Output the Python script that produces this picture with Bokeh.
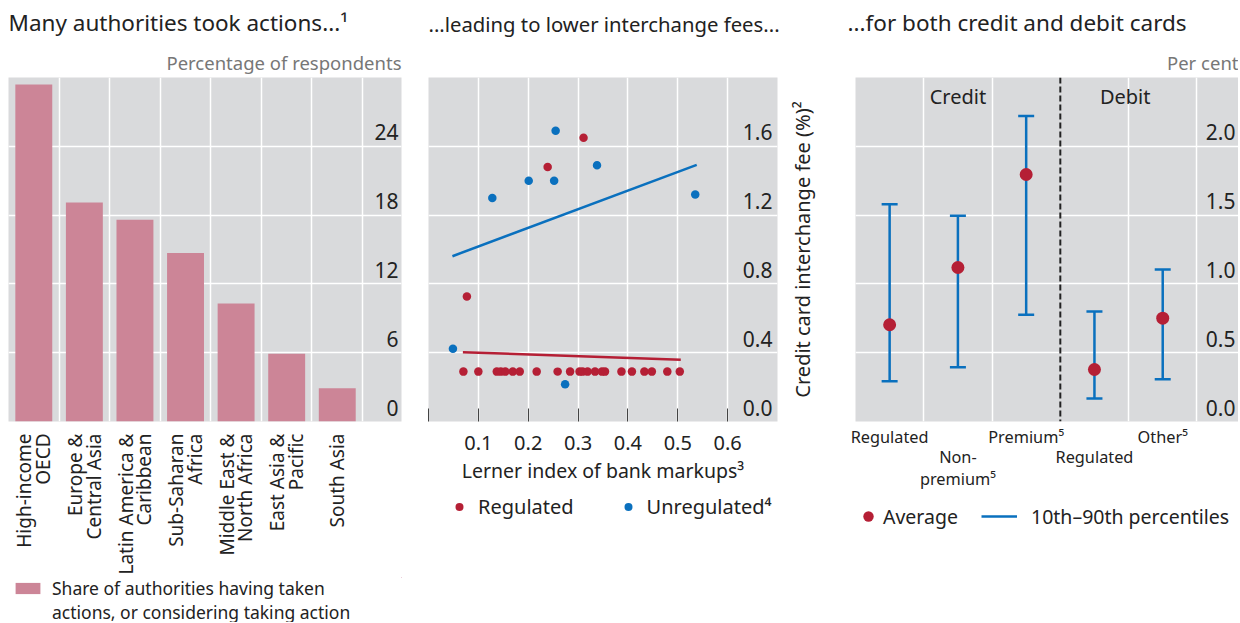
import math
from bokeh.plotting import figure
from bokeh.models import (Range1d, FixedTicker, LinearAxis, Legend, LegendItem, Title, Span)
from bokeh.layouts import row, column
from bokeh.embed import file_html
from bokeh.resources import INLINE
from bokeh.core.properties import value

FONT = "Noto Sans"
BG = "#d9dadc"
PINK = "#cc8597"
RED = "#b51f35"
BLUE = "#0a70be"
DARK = "#222222"
GREY = "#777777"

# ---------------- data ----------------
regions = ["High-income\nOECD", "Europe &\nCentral Asia", "Latin America &\nCaribbean",
           "Sub-Saharan\nAfrica", "Middle East &\nNorth Africa", "East Asia &\nPacific", "South Asia"]
share = [29.4, 19.1, 17.6, 14.7, 10.3, 5.9, 2.9]
p1_yticks = [0, 6, 12, 18, 24]

reg_x = [0.077, 0.239, 0.311, 0.070, 0.100, 0.137, 0.145, 0.154, 0.169, 0.183, 0.217, 0.259,
         0.284, 0.303, 0.309, 0.319, 0.334, 0.348, 0.354, 0.387, 0.408, 0.433, 0.448, 0.479, 0.504]
reg_y = [0.727, 1.48, 1.65, 0.29, 0.29, 0.29, 0.29, 0.29, 0.29, 0.29, 0.29, 0.29,
         0.29, 0.29, 0.29, 0.29, 0.29, 0.29, 0.29, 0.29, 0.29, 0.29, 0.29, 0.29, 0.29]
unreg_x = [0.049, 0.128, 0.201, 0.252, 0.255, 0.338, 0.535, 0.274]
unreg_y = [0.423, 1.30, 1.40, 1.40, 1.69, 1.49, 1.32, 0.217]
reg_fit_x = [0.069, 0.506]
reg_fit_y = [0.403, 0.359]
unreg_fit_x = [0.048, 0.538]
unreg_fit_y = [0.961, 1.492]
p2_xticks = [0.0, 0.1, 0.2, 0.3, 0.4, 0.5, 0.6]
p2_xlabels = ["", "0.1", "0.2", "0.3", "0.4", "0.5", "0.6"]
p2_yticks = [0.0, 0.4, 0.8, 1.2, 1.6]
p2_ylabels = ["0.0", "0.4", "0.8", "1.2", "1.6"]

card_types = ["Regulated", "Non-\npremium\u2075", "Premium\u2075", "Regulated", "Other\u2075"]
avg = [0.703, 1.119, 1.795, 0.378, 0.751]
p10 = [0.293, 0.395, 0.775, 0.167, 0.307]
p90 = [1.579, 1.495, 2.22, 0.80, 1.105]
groups = ["Credit", "Debit"]
p3_yticks = [0.0, 0.5, 1.0, 1.5, 2.0]
p3_ylabels = ["0.0", "0.5", "1.0", "1.5", "2.0"]

# ---------------- helpers ----------------
TOP = 77
FRAME_H = 344


def make_fig(fw, bottom, xr, yr, left, right, yloc=None):
    p = figure(frame_width=fw, frame_height=FRAME_H, x_range=xr, y_range=yr,
               output_backend="svg", toolbar_location=None, min_border_left=left,
               min_border_right=right, min_border_top=TOP, min_border_bottom=bottom,
               y_axis_location=yloc)
    p.background_fill_color = BG
    p.border_fill_color = "white"
    p.outline_line_color = None
    p.grid.grid_line_color = "white"
    p.grid.grid_line_width = 1.5
    return p


def legend_fig(fw, height, left, right):
    # same side borders as the chart above it, so the column keeps both aligned
    f = figure(frame_width=fw, height=height, x_range=Range1d(-3, -2), y_range=Range1d(-3, -2),
               output_backend="svg", toolbar_location=None, x_axis_location=None,
               y_axis_location=None, min_border_left=left, min_border_right=right,
               min_border_top=0, min_border_bottom=0)
    f.grid.visible = False
    f.outline_line_color = None
    f.background_fill_color = "white"
    f.border_fill_color = "white"
    return f


def add_titles(p, main, sub, main_size="22.5px", offset=0):
    p.add_layout(Title(text=sub, align="right", text_font=FONT, text_font_size="18.5px",
                       text_font_style="normal", text_color=GREY, standoff=5), "above")
    p.add_layout(Title(text=main, align="left", vertical_align="top", text_font=FONT,
                       text_font_size=main_size, text_font_style="normal", text_color=DARK,
                       standoff=12, offset=offset), "above")


def style_axis(ax, size):
    ax.axis_line_color = None
    ax.major_tick_line_color = None
    ax.minor_tick_line_color = None
    ax.major_tick_out = 0
    ax.major_tick_in = 0
    ax.minor_tick_out = 0
    ax.major_label_text_font = FONT
    ax.major_label_text_font_size = size
    ax.major_label_text_color = DARK


def tick_text(p, xend, ticks, labels, xoff):
    p.text(x=[xend] * len(ticks), y=ticks, text=labels, text_align="right",
           text_baseline="bottom", x_offset=xoff, y_offset=-6, text_font=value(FONT),
           text_font_size="21px", text_color=DARK)


def make_legend(items, margin, **kw):
    return Legend(items=items, location="left", margin=margin, padding=0,
                  border_line_color=None, background_fill_alpha=0,
                  label_text_font=FONT, label_text_color=DARK, **kw)


# ---------------- panel 1 ----------------
x1_end = 7.77
p1 = make_fig(393, 156, Range1d(0, x1_end), Range1d(0, 30), 8, 19)
add_titles(p1, "Many authorities took actions...\u00b9", "Percentage of respondents")
bar_x = [i + 0.5 for i in range(len(share))]
p1.vbar(x=bar_x, top=share, width=0.73, fill_color=PINK, line_color=None)
p1.xgrid.ticker = FixedTicker(ticks=[1, 2, 3, 4, 5, 6, 7])
p1.ygrid.ticker = FixedTicker(ticks=p1_yticks)
ax1 = p1.xaxis[0]
ax1.ticker = FixedTicker(ticks=bar_x)
ax1.major_label_overrides = {bx: lab for bx, lab in zip(bar_x, regions)}
ax1.major_label_orientation = math.pi / 2
style_axis(ax1, "19px")
ax1.major_label_standoff = 12
ax1.major_label_text_line_height = 0.72
tick_text(p1, x1_end, p1_yticks, [str(t) for t in p1_yticks], -3)

l1 = legend_fig(393, 45, 8, 19)
k1 = l1.vbar(x=bar_x, top=share, width=0.73, fill_color=PINK, line_color=None)
k1b = l1.vbar(x=bar_x, top=share, width=0.73, fill_alpha=0, line_alpha=0)
l1.add_layout(make_legend([LegendItem(label="Share of authorities having taken", renderers=[k1]),
                           LegendItem(label="actions, or considering taking action", renderers=[k1b])],
                          4, glyph_width=31, glyph_height=14, label_standoff=9, label_height=21,
                          spacing=0, label_text_font_size="17.5px"))

# ---------------- panel 2 ----------------
x2_end = 0.7
p2 = make_fig(349, 72, Range1d(0, x2_end), Range1d(0, 2.0), 8, 8)
add_titles(p2, "...leading to lower interchange fees...", " ", main_size="20.3px")
p2.xgrid.ticker = FixedTicker(ticks=p2_xticks[1:])
p2.ygrid.ticker = FixedTicker(ticks=p2_yticks)
ax2 = p2.xaxis[0]
ax2.ticker = FixedTicker(ticks=p2_xticks)
ax2.major_label_overrides = {t: l for t, l in zip(p2_xticks, p2_xlabels)}
style_axis(ax2, "20px")
ax2.major_tick_line_color = "#444444"
ax2.major_tick_in = 13
ax2.major_tick_out = 0
ax2.major_label_standoff = 14
ax2.axis_label = "Lerner index of bank markups\u00b3"
ax2.axis_label_text_font = FONT
ax2.axis_label_text_font_size = "19.5px"
ax2.axis_label_text_font_style = "normal"
ax2.axis_label_text_color = DARK
ax2.axis_label_standoff = 4
p2.scatter(unreg_x, unreg_y, size=8.5, fill_color=BLUE, line_color=None)
p2.scatter(reg_x, reg_y, size=8.5, fill_color=RED, line_color=None)
p2.line(unreg_fit_x, unreg_fit_y, line_color=BLUE, line_width=2.5)
p2.line(reg_fit_x, reg_fit_y, line_color=RED, line_width=2.5)
tick_text(p2, x2_end, p2_yticks, p2_ylabels, -5)

l2 = legend_fig(349, 26, 8, 8)
k2r = l2.scatter(reg_x, reg_y, size=8.5, fill_color=RED, line_color=None)
k2b = l2.scatter(unreg_x, unreg_y, size=8.5, fill_color=BLUE, line_color=None)
l2.add_layout(make_legend([LegendItem(label="Regulated", renderers=[k2r]),
                           LegendItem(label="Unregulated\u2074", renderers=[k2b])],
                          21, orientation="horizontal", glyph_width=20, glyph_height=20,
                          label_standoff=9, spacing=44, label_text_font_size="20px"))

# ---------------- panel 3 ----------------
x3_end = 5.61
p3 = make_fig(383, 77, Range1d(0, x3_end), Range1d(0, 2.5), 70, 0, yloc="left")
add_titles(p3, "...for both credit and debit cards", "Per cent", offset=-8)
cx = [i + 0.5 for i in range(len(avg))]
p3.xgrid.ticker = FixedTicker(ticks=[1, 2, 4, 5])
p3.ygrid.ticker = FixedTicker(ticks=p3_yticks)
ay3 = p3.yaxis[0]
ay3.ticker = FixedTicker(ticks=[])
style_axis(ay3, "0px")
ay3.axis_label = "Credit card interchange fee (%)\u00b2"
ay3.axis_label_text_font = FONT
ay3.axis_label_text_font_size = "20px"
ay3.axis_label_text_font_style = "normal"
ay3.axis_label_text_color = DARK
ay3.axis_label_standoff = 40
p3.add_layout(Span(location=3, dimension="height", line_color=DARK, line_dash="6 3", line_width=2))
axA = p3.xaxis[0]
axA.ticker = FixedTicker(ticks=cx[0::2])
axA.major_label_overrides = {cx[i]: card_types[i] for i in range(0, 5, 2)}
style_axis(axA, "16.3px")
axA.major_label_standoff = 4
axB = LinearAxis(ticker=FixedTicker(ticks=cx[1::2]),
                 major_label_overrides={cx[i]: card_types[i] for i in range(1, 5, 2)})
style_axis(axB, "16.3px")
axB.major_label_standoff = -5
axB.major_label_text_line_height = 1.0
p3.add_layout(axB, "below")
p3.segment(x0=cx, y0=p10, x1=cx, y1=p90, line_color=BLUE, line_width=2.5)
p3.scatter(cx, p90, marker="dash", size=16, line_color=BLUE, line_width=2.5)
p3.scatter(cx, p10, marker="dash", size=16, line_color=BLUE, line_width=2.5)
p3.scatter(cx, avg, size=13, fill_color=RED, line_color=None)
p3.text(x=[1.5, 3.95], y=[2.36, 2.36], text=groups, text_align="center", text_baseline="middle",
        text_font=value(FONT), text_font_size="20px", text_color=DARK)
tick_text(p3, x3_end, p3_yticks, p3_ylabels, -3)

l3 = legend_fig(383, 36, 70, 0)
k3a = l3.scatter(cx, avg, size=13, fill_color=RED, line_color=None)
k3s = l3.segment(x0=cx, y0=p10, x1=cx, y1=p90, line_color=BLUE, line_width=2.5)
l3.add_layout(make_legend([LegendItem(label="Average", renderers=[k3a])],
                          0, glyph_width=26, glyph_height=28,
                          label_standoff=2, label_text_font_size="19.5px"))
l3.add_layout(make_legend([LegendItem(label="10th\u201390th percentiles", renderers=[k3s])],
                          126, glyph_width=36, glyph_height=28,
                          label_standoff=14, label_text_font_size="19.5px"))

layout = row(column(p1, l1), column(p2, l2), column(p3, l3))
open("out.html", "w").write(file_html(layout, INLINE))
